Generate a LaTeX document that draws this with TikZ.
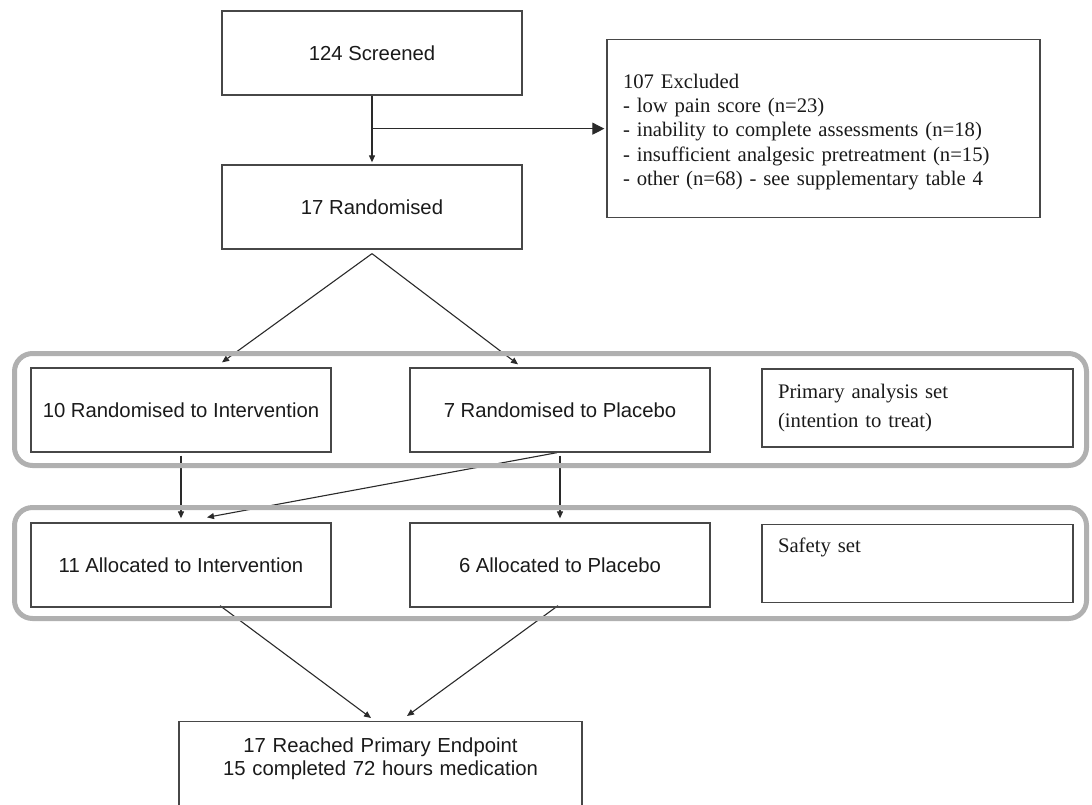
\documentclass[tikz,border=0pt]{standalone}
\usepackage{fontspec}
\setmainfont{Liberation Serif}
\setsansfont{Liberation Sans}
\usetikzlibrary{arrows.meta,calc}
\definecolor{edgegray}{HTML}{474747}
\definecolor{linkgray}{HTML}{2A2A2A}
\definecolor{bandgray}{HTML}{B0B0B0}
\definecolor{ink}{HTML}{1A1A1A}
\pgfdeclarelayer{links}
\pgfdeclarelayer{bands}
\pgfsetlayers{links,bands,main}
\begin{document}
\begin{tikzpicture}[x=1pt,y=-1pt,
  flowbox/.style={draw=edgegray, line width=1.3pt, inner sep=0pt, text=ink},
  sanslabel/.style={font=\sffamily\fontsize{20.3}{23}\selectfont},
  seriflabel/.style={font=\rmfamily\fontsize{20.7}{24.3}\selectfont},
  armbox/.style={flowbox, sanslabel, minimum width=300pt, minimum height=84pt},
  setbox/.style={flowbox, minimum width=311pt, text width=279pt, align=left,
    inner xsep=16pt, font=\rmfamily\fontsize{20.7}{29}\selectfont},
  groupband/.style={draw=bandgray, line width=5pt, rounded corners=18pt},
  flowlink/.style={draw=linkgray, line width=1.1pt, -{Triangle[length=7pt,width=6pt]}},
  biglink/.style={draw=linkgray, line width=1.1pt, -{Triangle[length=12pt,width=12pt]}},
]
\useasboundingbox (0,0) rectangle (1092,804);

% enrolment
\node[armbox] (scr) at (372,53) {124 Screened};
\node[armbox] (ran) at (372,207) {17 Randomised};
\node[flowbox, seriflabel, anchor=north, minimum width=433pt,
      text width=401pt, inner xsep=16pt, align=left,
      text height=48.5pt, text depth=129.5pt] (exc) at (823.5,39)
  {107 Excluded\\
   - low pain score (n=23)\\
   - inability to complete assessments (n=18)\\
   - insufficient analgesic pretreatment (n=15)\\
   - other (n=68) - see supplementary table 4};

% randomisation row
\node[armbox] (ri) at (181,410) {10 Randomised to Intervention};
\node[armbox] (rp) at (560,410) {7 Randomised to Placebo};
\node[setbox, minimum height=78pt] (pa) at (917.5,408)
  {Primary analysis set\\(intention to treat)};

% allocation row
\node[armbox] (ai) at (181,565) {11 Allocated to Intervention};
\node[armbox] (ap) at (560,565) {6 Allocated to Placebo};
\node[setbox, anchor=north, text height=27.5pt, text depth=50.5pt] (ss) at (917.5,524)
  {Safety set};

% outcome
\node[flowbox, sanslabel, anchor=north, text width=403pt, align=center,
      text height=31pt, text depth=56pt] (fin) at (380.5,721)
  {17 Reached Primary Endpoint\\15 completed 72 hours medication};

% analysis-set frames
\begin{pgfonlayer}{bands}
\node[groupband, minimum width=1072pt, minimum height=112pt] (set1) at (550.5,409.5) {};
\node[groupband, minimum width=1072pt, minimum height=111pt] (set2) at (550.5,563) {};
\end{pgfonlayer}

% connectors
\begin{pgfonlayer}{links}
\draw[flowlink] (scr.south) -- ([yshift=2pt]ran.north);
\draw[biglink] (scr.south |- exc.west) -- ([xshift=-2pt]exc.west);
\draw[flowlink] ([yshift=-4pt]ran.south) -- ([xshift=41pt,yshift=5pt]ri.north);
\draw[flowlink] ([yshift=-4pt]ran.south) -- ([xshift=-42pt,yshift=3pt]rp.north);
\draw[flowlink] ([yshift=-3pt]ri.south) -- ([yshift=4pt]ai.north);
\draw[flowlink] ([yshift=-3pt]rp.south) -- ([yshift=4pt]ap.north);
\draw[flowlink] ([xshift=-3pt]rp.south) -- ([xshift=26pt,yshift=5pt]ai.north);
\draw[flowlink] ([xshift=39pt,yshift=2pt]ai.south) -- ([xshift=-9.5pt,yshift=3pt]fin.north);
\draw[flowlink] ([xshift=-2pt,yshift=2pt]ap.south) -- ([xshift=26.5pt,yshift=5pt]fin.north);
\end{pgfonlayer}
\end{tikzpicture}
\end{document}
